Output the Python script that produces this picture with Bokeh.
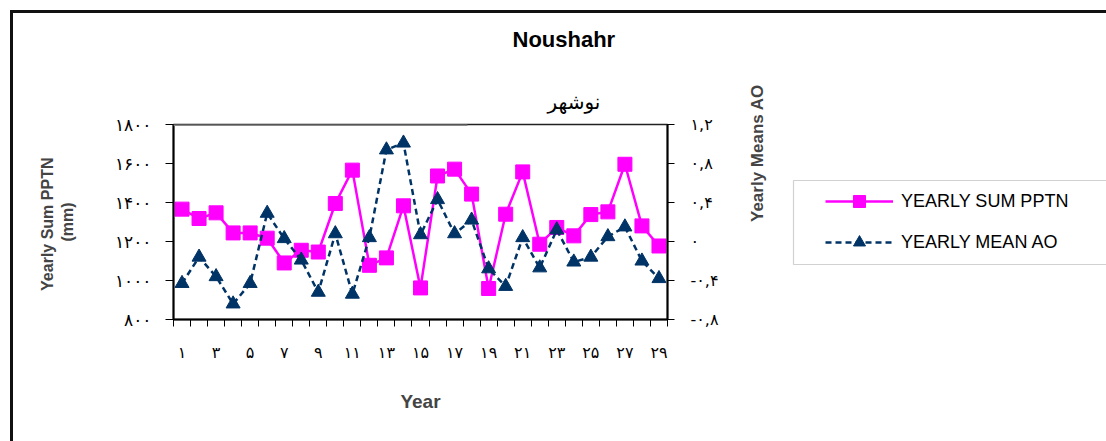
import math
from bokeh.plotting import figure
from bokeh.layouts import row
from bokeh.models import (LinearAxis, Range1d, FixedTicker, Legend, LegendItem,
                          Title, BoxAnnotation, InlineStyleSheet)
from bokeh.embed import file_html
from bokeh.resources import INLINE

# ---- data ----
years = list(range(1, 30))
pptn = [1366, 1318, 1347, 1244, 1244, 1217, 1090, 1155, 1146, 1395,
        1566, 1078, 1116, 1383, 962, 1536, 1571, 1443, 959, 1340,
        1557, 1186, 1272, 1229, 1338, 1352, 1596, 1280, 1177]
ao = [-0.43, -0.16, -0.36, -0.64, -0.43, 0.29, 0.03, -0.19, -0.52, 0.08,
      -0.54, 0.04, 0.94, 1.01, 0.07, 0.43, 0.08, 0.22, -0.28, -0.46,
      0.04, -0.27, 0.12, -0.21, -0.16, 0.05, 0.15, -0.20, -0.38]

pptn_ticks = [800, 1000, 1200, 1400, 1600, 1800]
pptn_tick_labels = ["۸۰۰", "۱۰۰۰", "۱۲۰۰", "۱۴۰۰", "۱۶۰۰", "۱۸۰۰"]
ao_ticks = [-0.8, -0.4, 0.0, 0.4, 0.8, 1.2]
ao_tick_labels = ["-۰,۸", "-۰,۴", "۰", "۰,۴", "۰,۸", "۱,۲"]
year_ticks = list(range(1, 30, 2))
year_tick_labels = ["۱", "۳", "۵", "۷", "۹", "۱۱", "۱۳", "۱۵", "۱۷", "۱۹",
                    "۲۱", "۲۳", "۲۵", "۲۷", "۲۹"]
year_bounds = [i + 0.5 for i in range(0, 30)]

title_text = "Noushahr"
subtitle_text = "نوشهر"
series_names = ["YEARLY SUM PPTN", "YEARLY MEAN AO"]

PINK = "#FF00FF"
NAVY = "#003366"
LAT = "Liberation Sans"
AR = "DejaVu Sans"

frame_css = InlineStyleSheet(css="""
:host { position: relative; }
:host::after {
  content: ""; position: absolute; left: 10px; top: 10px;
  width: calc(100% - 10px); height: calc(100% - 10px);
  border-left: 3px solid #111; border-top: 3px solid #111;
  box-sizing: border-box; pointer-events: none;
}
""")

# ---------------- main chart ----------------
p = figure(width=780, height=441, output_backend="svg", toolbar_location=None,
           x_range=Range1d(0.5, 29.5), y_range=Range1d(800, 1800),
           x_axis_type=None, y_axis_type=None,
           min_border_left=173, min_border_right=113,
           min_border_top=124, min_border_bottom=122)
p.extra_y_ranges = {"ao": Range1d(-0.8, 1.2)}
p.background_fill_color = "white"
p.border_fill_color = "white"
p.outline_line_color = "#222222"
p.outline_line_width = 1.5

# titles (above panel)
p.title.text = title_text
p.title.align = "left"
p.title.offset = 339
p.title.vertical_align = "top"
p.title.standoff = 46
p.title.text_font = LAT
p.title.text_font_style = "bold"
p.title.text_font_size = "22px"
p.title.text_color = "black"
sub = Title(text=subtitle_text, align="left", offset=374, text_font=AR,
            vertical_align="bottom", standoff=22,
            text_font_style="normal", text_font_size="20px", text_color="black")
p.add_layout(sub, "above")

# left axis
yax = LinearAxis(ticker=FixedTicker(ticks=pptn_ticks),
                 major_label_overrides=dict(zip(pptn_ticks, pptn_tick_labels)),
                 axis_label="Yearly Sum  PPTN\n(mm)")
yax.axis_line_width = 2
yax.axis_line_color = "black"
yax.major_tick_out = 8
yax.major_tick_in = 0
yax.minor_tick_out = 0
yax.minor_tick_in = 0
yax.major_label_standoff = 14
yax.major_label_text_font = AR
yax.major_label_text_font_size = "17px"
yax.major_label_text_color = "black"
yax.axis_label_text_font = LAT
yax.axis_label_text_font_style = "bold"
yax.axis_label_text_font_size = "16px"
yax.axis_label_standoff = 36
p.add_layout(yax, "left")

# right axis
rax = LinearAxis(y_range_name="ao", ticker=FixedTicker(ticks=ao_ticks),
                 major_label_overrides=dict(zip(ao_ticks, ao_tick_labels)),
                 axis_label="Yearly Means AO")
rax.axis_line_width = 2
rax.axis_line_color = "black"
rax.major_tick_out = 7
rax.major_tick_in = 0
rax.minor_tick_out = 0
rax.minor_tick_in = 0
rax.major_label_standoff = 16
rax.major_label_text_font = AR
rax.major_label_text_font_size = "16px"
rax.major_label_text_color = "black"
rax.axis_label_text_font = LAT
rax.axis_label_text_font_style = "bold"
rax.axis_label_text_font_size = "17px"
rax.axis_label_standoff = 36
try:
    rax.axis_label_orientation = math.pi / 2
except Exception:
    pass
p.add_layout(rax, "right")

# bottom axis
xax = LinearAxis(ticker=FixedTicker(ticks=year_ticks, minor_ticks=year_bounds),
                 major_label_overrides=dict(zip(year_ticks, year_tick_labels)),
                 axis_label="Year")
xax.axis_line_width = 2
xax.axis_line_color = "black"
xax.major_tick_out = 0
xax.major_tick_in = 0
xax.minor_tick_out = 7
xax.minor_tick_in = 0
xax.minor_tick_line_color = "black"
xax.major_label_standoff = 16
xax.major_label_text_font = AR
xax.major_label_text_font_size = "16px"
xax.major_label_text_color = "black"
xax.axis_label_text_font = LAT
xax.axis_label_text_font_style = "bold"
xax.axis_label_text_font_size = "19px"
xax.axis_label_standoff = 26
p.add_layout(xax, "below")

# series
p.line(years, pptn, line_color=PINK, line_width=2.5)
p.scatter(years, pptn, marker="square", size=14, fill_color=PINK, line_color=PINK)
p.line(years, ao, y_range_name="ao", line_color=NAVY, line_width=2.5, line_dash="6 4")
p.scatter(years, ao, y_range_name="ao", marker="triangle", size=14,
          fill_color=NAVY, line_color=NAVY)

# grey segment on top border
p.add_layout(BoxAnnotation(left=0, right=294, top=196.5, bottom=193.5,
                           left_units="screen", right_units="screen",
                           top_units="screen", bottom_units="screen",
                           fill_color="#888888", fill_alpha=1, line_alpha=0))

# ---------------- legend panel (frame is aligned with the main frame) ----------------
# the same series are drawn here outside the visible range, only to feed the legend glyphs
q = figure(width=326, height=441, output_backend="svg", toolbar_location=None,
           x_range=Range1d(1000, 1001), y_range=Range1d(5000, 5001),
           x_axis_type=None, y_axis_type=None,
           min_border_left=0, min_border_right=0, min_border_top=0, min_border_bottom=0)
q.outline_line_color = None
q.background_fill_color = "white"
q.border_fill_color = "white"
ql1 = q.line(years, pptn, line_color=PINK, line_width=2.5)
qs1 = q.scatter(years, pptn, marker="square", size=14, fill_color=PINK, line_color=PINK)
ql2 = q.line(years, ao, line_color=NAVY, line_width=2.5, line_dash="6 4")
qs2 = q.scatter(years, ao, marker="triangle", size=14, fill_color=NAVY, line_color=NAVY)

q.add_layout(BoxAnnotation(left=13, right=340, top=139, bottom=55,
                           left_units="screen", right_units="screen",
                           top_units="screen", bottom_units="screen",
                           fill_color="white", fill_alpha=1,
                           line_color="#666666", line_width=1.2))
legend = Legend(items=[LegendItem(label=series_names[0], renderers=[ql1, qs1]),
                       LegendItem(label=series_names[1], renderers=[ql2, qs2])],
                location=(45, 62), glyph_width=68, glyph_height=30,
                label_standoff=8, spacing=11, padding=0, margin=0,
                border_line_alpha=0, background_fill_alpha=0,
                label_text_font=LAT, label_text_font_size="18px",
                label_text_color="black")
q.add_layout(legend, "center")

layout = row(p, q, spacing=0, stylesheets=[frame_css])

open("out.html", "w").write(file_html(layout, INLINE))
